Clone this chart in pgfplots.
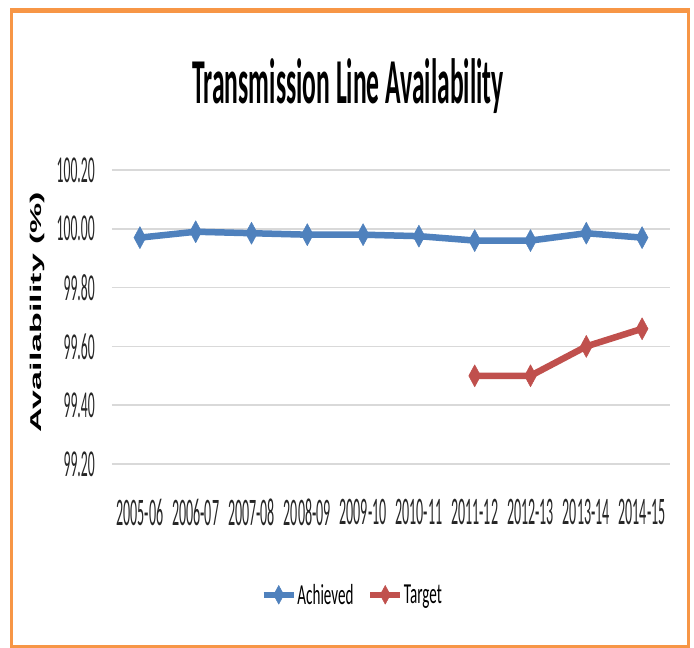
\documentclass[border=0pt]{standalone}
\usepackage{pgfplots}
\pgfplotsset{compat=1.18}
\usepackage{fontspec}
\setmainfont{Carlito}[FakeStretch=0.36]
\newfontfamily\tickfont{Carlito}[FakeStretch=0.36]
\newfontfamily\legfont{Carlito}[FakeStretch=0.52]
\newfontfamily\titlefont{Carlito}[FakeStretch=0.40]
\newfontfamily\labfont{Liberation Sans}
\definecolor{ach}{RGB}{79,129,189}
\definecolor{tgt}{RGB}{192,80,77}
\definecolor{framec}{RGB}{247,150,70}
\definecolor{gridc}{RGB}{217,217,217}
\begin{document}
\begin{tikzpicture}[x=1pt,y=1pt]
\path[use as bounding box] (0,0) rectangle (694,-648);
\fill[white] (0,0) rectangle (694,-648);
\draw[framec, line width=3pt] (11.5,-10.5) rectangle (688,-646);
\draw[framec, line width=5pt] (10,-10.5) -- (689.5,-10.5);
\node[anchor=base, font=\titlefont\fontsize{64}{68}\selectfont\bfseries] at (348,-103) {Transmission Line Availability};
\node[rotate=90] at (37,-312) {\scalebox{1}[0.46]{\labfont\bfseries\fontsize{34}{36}\selectfont Availability (\%)}};
\begin{axis}[
  at={(112pt,-464pt)}, anchor=south west,
  scale only axis, width=558pt, height=294pt,
  xmin=-0.5, xmax=9.5, ymin=99.2, ymax=100.2,
  xtick={0,...,9},
  xticklabels={2005-06,2006-07,2007-08,2008-09,2009-10,2010-11,2011-12,2012-13,2013-14,2014-15},
  ytick={99.2,99.4,99.6,99.8,100,100.2},
  yticklabel style={inner sep=0pt, anchor=east, xshift=-17pt, font=\tickfont\fontsize{38}{40}\selectfont,
    /pgf/number format/.cd, fixed, fixed zerofill, precision=2, 1000 sep={}},
  /pgf/number format/assume math mode=true,
  ymajorgrids, grid style={gridc, line width=1.5pt},
  axis line style={draw=none},
  major tick length=0pt,
  tick label style={text=black!85},
  xticklabel style={inner sep=0pt, anchor=north, yshift=-35pt, font=\tickfont\fontsize{39}{41}\selectfont},
  legend style={draw=none, fill=none, legend columns=-1, at={(0.43,-0.445)}, anchor=center,
    font=\legfont\fontsize{29}{32}\selectfont,
    nodes={inner sep=1pt},
    /tikz/every even column/.append style={column sep=13pt}},
  legend image code/.code={\draw[mark repeat=2,mark phase=2,#1,line width=5.5pt, every mark/.append style={scale=0.85}] plot coordinates {(0pt,0pt) (15pt,0pt) (30pt,0pt)};},
  every axis plot/.append style={line width=6.5pt, line join=round, mark=diamond*, mark size=11pt,
    mark options={solid, line width=0.5pt, xscale=0.72}},
]
\addplot[ach] coordinates {
(0,99.97) (1,99.99) (2,99.985) (3,99.98) (4,99.98) (5,99.975) (6,99.96) (7,99.96) (8,99.985) (9,99.97)};
\addlegendentry{Achieved}
\addplot[tgt] coordinates {
(6,99.50) (7,99.50) (8,99.60) (9,99.66)};
\addlegendentry{Target}
\end{axis}
\end{tikzpicture}
\end{document}
